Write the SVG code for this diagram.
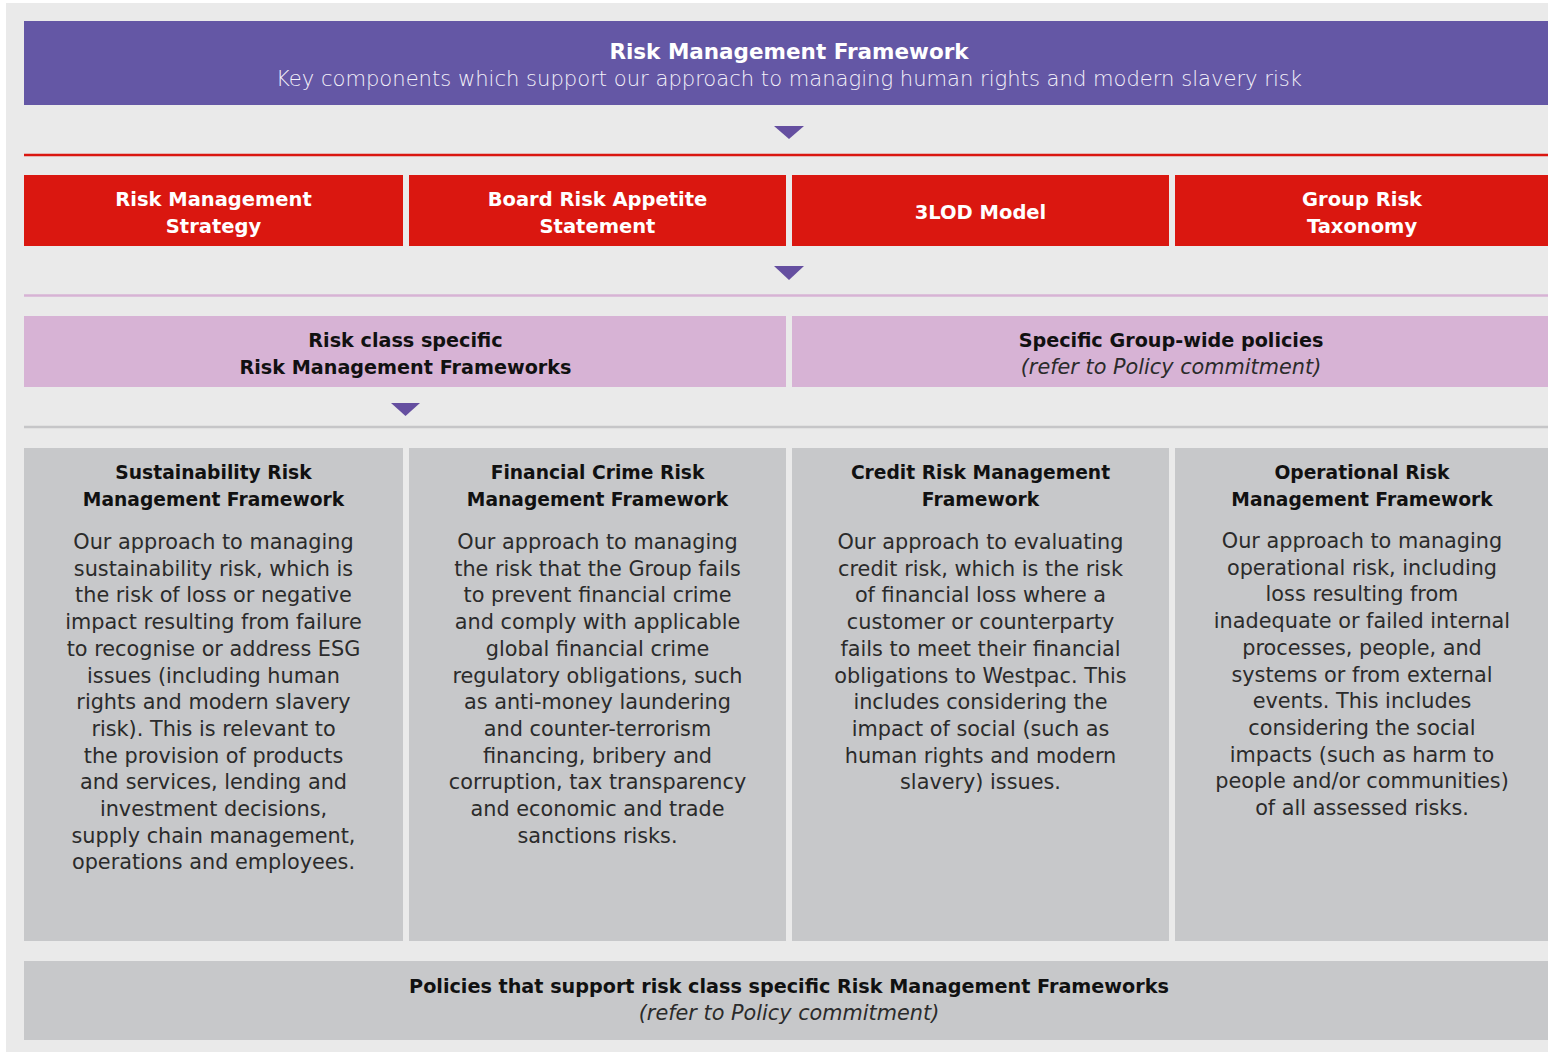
<svg xmlns="http://www.w3.org/2000/svg" width="1548" height="1054" viewBox="0 0 1548 1054">
<style>
text{font-family:"DejaVu Sans","Liberation Sans",sans-serif;text-anchor:middle}
.hw{fill:#ffffff;font-weight:bold;font-size:19.5px}
.tt{fill:#ffffff;font-weight:bold;font-size:21.5px}
.st{fill:#f4f2fa;font-size:21.1px;font-weight:300}
.hb{fill:#111111;font-weight:bold;font-size:19.2px}
.hg{fill:#111111;font-weight:bold;font-size:18.7px}
.bd{fill:#2b2b2b;font-size:20.8px}
.it{fill:#2b2b2b;font-size:20.8px;font-style:italic}
.red{fill:#DA1710}
.lil{fill:#D7B3D5}
.gry{fill:#C7C8CA}
.tri{fill:#654FA0}
</style>
<rect x="0" y="0" width="1548" height="1054" fill="#ffffff"/>
<rect x="6" y="3" width="1542" height="1049" fill="#EAEAEA"/>

<g id="connectors">
<polygon class="tri" points="774,126 804,126 789,139"/>
<line x1="24" y1="155" x2="1548" y2="155" stroke="#DA1710" stroke-width="2.5"/>
<polygon class="tri" points="774,266 804,266 789,280"/>
<line x1="24" y1="295.5" x2="1548" y2="295.5" stroke="#D7B3D5" stroke-width="2.5"/>
<polygon class="tri" points="391,403 420,403 405.5,416"/>
<line x1="24" y1="427" x2="1548" y2="427" stroke="#C6C6C8" stroke-width="2.5"/>
</g>

<g id="header">
<rect x="24" y="21" width="1524" height="84" fill="#6457A5"/>
<text class="tt" x="789" y="59">Risk Management Framework</text>
<text class="st" x="789" y="86">Key components which support our approach to managing human rights and modern slavery risk</text>
</g>

<g id="risk-management-strategy">
<rect class="red" x="24" y="175" width="379" height="71"/>
<text class="hw" x="213.5" y="206">Risk Management</text>
<text class="hw" x="213.5" y="233">Strategy</text>
</g>
<g id="board-risk-appetite">
<rect class="red" x="409" y="175" width="377" height="71"/>
<text class="hw" x="597.5" y="206">Board Risk Appetite</text>
<text class="hw" x="597.5" y="233">Statement</text>
</g>
<g id="three-lod-model">
<rect class="red" x="792" y="175" width="377" height="71"/>
<text class="hw" x="980.5" y="219">3LOD Model</text>
</g>
<g id="group-risk-taxonomy">
<rect class="red" x="1175" y="175" width="373" height="71"/>
<text class="hw" x="1362" y="206">Group Risk</text>
<text class="hw" x="1362" y="233">Taxonomy</text>
</g>

<g id="risk-class-frameworks">
<rect class="lil" x="24" y="316" width="762" height="71"/>
<text class="hb" x="405.5" y="347">Risk class specific</text>
<text class="hb" x="405.5" y="374">Risk Management Frameworks</text>
</g>
<g id="group-wide-policies">
<rect class="lil" x="792" y="316" width="756" height="71"/>
<text class="hb" x="1171" y="347">Specific Group-wide policies</text>
<text class="it" x="1171" y="374">(refer to Policy commitment)</text>
</g>

<g id="sustainability-rmf">
<rect class="gry" x="24" y="448" width="379" height="493"/>
<text class="hg" x="213.5" y="479">Sustainability Risk</text>
<text class="hg" x="213.5" y="506">Management Framework</text>
<text class="bd" x="213.5" y="549">Our approach to managing</text>
<text class="bd" x="213.5" y="575.7">sustainability risk, which is</text>
<text class="bd" x="213.5" y="602.4">the risk of loss or negative</text>
<text class="bd" x="213.5" y="629.1">impact resulting from failure</text>
<text class="bd" x="213.5" y="655.8">to recognise or address ESG</text>
<text class="bd" x="213.5" y="682.5">issues (including human</text>
<text class="bd" x="213.5" y="709.2">rights and modern slavery</text>
<text class="bd" x="213.5" y="735.9">risk). This is relevant to</text>
<text class="bd" x="213.5" y="762.6">the provision of products</text>
<text class="bd" x="213.5" y="789.3">and services, lending and</text>
<text class="bd" x="213.5" y="816">investment decisions,</text>
<text class="bd" x="213.5" y="842.7">supply chain management,</text>
<text class="bd" x="213.5" y="869.4">operations and employees.</text>
</g>

<g id="financial-crime-rmf">
<rect class="gry" x="409" y="448" width="377" height="493"/>
<text class="hg" x="597.5" y="479">Financial Crime Risk</text>
<text class="hg" x="597.5" y="506">Management Framework</text>
<text class="bd" x="597.5" y="549">Our approach to managing</text>
<text class="bd" x="597.5" y="575.7">the risk that the Group fails</text>
<text class="bd" x="597.5" y="602.4">to prevent financial crime</text>
<text class="bd" x="597.5" y="629.1">and comply with applicable</text>
<text class="bd" x="597.5" y="655.8">global financial crime</text>
<text class="bd" x="597.5" y="682.5">regulatory obligations, such</text>
<text class="bd" x="597.5" y="709.2">as anti-money laundering</text>
<text class="bd" x="597.5" y="735.9">and counter-terrorism</text>
<text class="bd" x="597.5" y="762.6">financing, bribery and</text>
<text class="bd" x="597.5" y="789.3">corruption, tax transparency</text>
<text class="bd" x="597.5" y="816">and economic and trade</text>
<text class="bd" x="597.5" y="842.7">sanctions risks.</text>
</g>

<g id="credit-rmf">
<rect class="gry" x="792" y="448" width="377" height="493"/>
<text class="hg" x="980.5" y="479">Credit Risk Management</text>
<text class="hg" x="980.5" y="506">Framework</text>
<text class="bd" x="980.5" y="549">Our approach to evaluating</text>
<text class="bd" x="980.5" y="575.7">credit risk, which is the risk</text>
<text class="bd" x="980.5" y="602.4">of financial loss where a</text>
<text class="bd" x="980.5" y="629.1">customer or counterparty</text>
<text class="bd" x="980.5" y="655.8">fails to meet their financial</text>
<text class="bd" x="980.5" y="682.5">obligations to Westpac. This</text>
<text class="bd" x="980.5" y="709.2">includes considering the</text>
<text class="bd" x="980.5" y="735.9">impact of social (such as</text>
<text class="bd" x="980.5" y="762.6">human rights and modern</text>
<text class="bd" x="980.5" y="789.3">slavery) issues.</text>
</g>

<g id="operational-rmf">
<rect class="gry" x="1175" y="448" width="373" height="493"/>
<text class="hg" x="1362" y="479">Operational Risk</text>
<text class="hg" x="1362" y="506">Management Framework</text>
<text class="bd" x="1362" y="548">Our approach to managing</text>
<text class="bd" x="1362" y="574.7">operational risk, including</text>
<text class="bd" x="1362" y="601.4">loss resulting from</text>
<text class="bd" x="1362" y="628.1">inadequate or failed internal</text>
<text class="bd" x="1362" y="654.8">processes, people, and</text>
<text class="bd" x="1362" y="681.5">systems or from external</text>
<text class="bd" x="1362" y="708.2">events. This includes</text>
<text class="bd" x="1362" y="734.9">considering the social</text>
<text class="bd" x="1362" y="761.6">impacts (such as harm to</text>
<text class="bd" x="1362" y="788.3">people and/or communities)</text>
<text class="bd" x="1362" y="815">of all assessed risks.</text>
</g>

<g id="supporting-policies">
<rect class="gry" x="24" y="961" width="1524" height="79"/>
<text class="hb" x="789" y="993">Policies that support risk class specific Risk Management Frameworks</text>
<text class="it" x="789" y="1020">(refer to Policy commitment)</text>
</g>
</svg>
